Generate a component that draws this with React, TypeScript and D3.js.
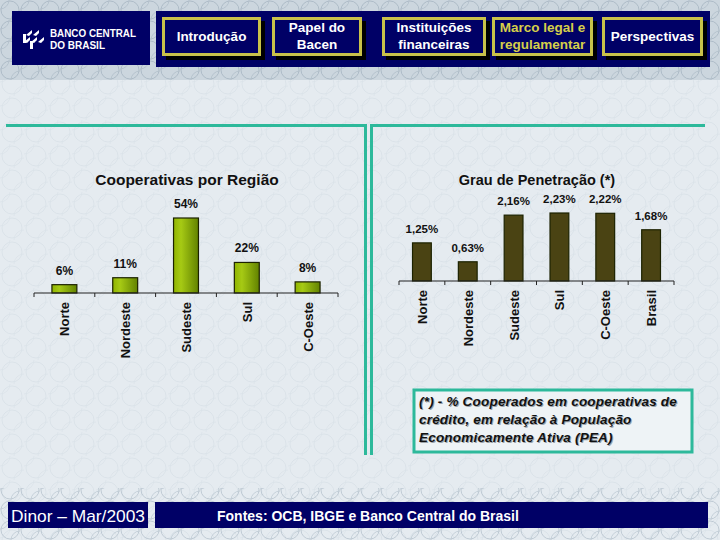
import * as d3 from "d3"

const regions = ["Norte", "Nordeste", "Sudeste", "Sul", "C-Oeste"]
const regionShare = [6, 11, 54, 22, 8]

const penetrationCats = ["Norte", "Nordeste", "Sudeste", "Sul", "C-Oeste", "Brasil"]
const penetration = [1.25, 0.63, 2.16, 2.23, 2.22, 1.68]

const navItems = [
	{ lines: ["Introdução"], x0: 162, x1: 261, active: false },
	{ lines: ["Papel do", "Bacen"], x0: 272, x1: 362, active: false },
	{ lines: ["Instituições", "financeiras"], x0: 382, x1: 486, active: false },
	{ lines: ["Marco legal e", "regulamentar"], x0: 492, x1: 593, active: true },
	{ lines: ["Perspectivas"], x0: 602, x1: 703, active: false },
]

const footnote = [
	"(*) - % Cooperados em cooperativas de",
	"crédito, em relação à População",
	"Economicamente Ativa (PEA)",
]

const FONT = "Arial, 'Liberation Sans', sans-serif"
const NAVY = "#000066"
const TEAL = "#2db99b"

function BarPanel({ cats, values, x0, x1, baseY, topY, maxV, fill, fmt, title, titleX, titleSize, valueSize }) {
	const pad = 0.59
	const x = d3.scaleBand().domain(cats).range([x0, x1]).paddingInner(pad).paddingOuter(pad / 2)
	const y = d3.scaleLinear().domain([0, maxV]).range([baseY, topY])
	const bounds = d3.range(cats.length + 1).map((i) => x0 + i * x.step())
	return (
		<g fontFamily={FONT} fontWeight="bold">
			<text x={titleX} y={185} textAnchor="middle" fontSize={titleSize} fill="#111">
				{title}
			</text>
			{cats.map((c, i) => (
				<g key={c}>
					<rect
						x={x(c)}
						y={y(values[i])}
						width={x.bandwidth()}
						height={baseY - y(values[i])}
						fill={fill}
						stroke="#1c2200"
						strokeWidth={1.2}
					/>
					<text
						x={x(c) + x.bandwidth() / 2}
						y={y(values[i]) - 10}
						textAnchor="middle"
						fontSize={valueSize}
						fill="#111"
					>
						{fmt(values[i])}
					</text>
					<text
						transform={`translate(${x(c) + x.bandwidth() / 2 + 5},${baseY + 9}) rotate(-90)`}
						textAnchor="end"
						fontSize={13}
						fill="#111"
					>
						{c}
					</text>
				</g>
			))}
			<line x1={x0} x2={x1} y1={baseY} y2={baseY} stroke="#222" strokeWidth={1.2} />
			{bounds.map((b, i) => (
				<line key={i} x1={b} x2={b} y1={baseY} y2={baseY + 4} stroke="#222" strokeWidth={1} />
			))}
		</g>
	)
}

export default function App() {
	return (
		<svg
			width={720}
			height={540}
			style={{ position: "absolute", left: 0, top: 0 }}
			fontFamily={FONT}
		>
			<defs>
				<pattern id="guil" width="24" height="24" patternUnits="userSpaceOnUse">
					<circle cx="12" cy="12" r="10" fill="none" stroke="#cfd9e1" strokeWidth="0.8" />
					<circle cx="0" cy="0" r="10" fill="none" stroke="#d4dde4" strokeWidth="0.8" />
					<circle cx="24" cy="24" r="10" fill="none" stroke="#d4dde4" strokeWidth="0.8" />
				</pattern>
				<pattern id="guilDark" width="20" height="20" patternUnits="userSpaceOnUse">
					<circle cx="10" cy="10" r="9" fill="none" stroke="#a9b8c4" strokeWidth="0.9" />
					<circle cx="0" cy="0" r="9" fill="none" stroke="#b3c1cc" strokeWidth="0.9" />
					<circle cx="20" cy="20" r="9" fill="none" stroke="#b3c1cc" strokeWidth="0.9" />
				</pattern>
				<linearGradient id="greenBar" x1="0" x2="1" y1="0" y2="0">
					<stop offset="0" stopColor="#90b400" />
					<stop offset="0.3" stopColor="#a6ca14" />
					<stop offset="1" stopColor="#628200" />
				</linearGradient>
			</defs>
			<rect width={720} height={540} fill="#e5ebf0" />
			<rect width={720} height={540} fill="url(#guil)" opacity={0.6} />
			<rect width={720} height={80} fill="#ccd6de" />
			<rect width={720} height={80} fill="url(#guilDark)" />
			<rect y={488} width={720} height={52} fill="url(#guilDark)" opacity={0.7} />

			{/* logo */}
			<rect x={12} y={11} width={138} height={54} fill={NAVY} />
			<g fill="#fff" stroke="none">
				<path d="M26 35 l6 -5 v3 l-3 3 z M33 35 l6 -5 v3 l-3 3 z" />
				<path d="M24 42 l6 -5 v3 l-3 3 z M31 42 l6 -5 v3 l-3 3 z M38 42 l6 -5 v3 l-3 3 z" />
				<rect x={23} y={34} width={3} height={9} />
				<rect x={30} y={41} width={3} height={8} />
			</g>
			<text x={50} y={37} fill="#fff" fontSize={10} fontWeight="bold" textLength={86} lengthAdjust="spacingAndGlyphs">
				BANCO CENTRAL
			</text>
			<text x={50} y={49} fill="#fff" fontSize={10} fontWeight="bold">
				DO BRASIL
			</text>

			{/* nav bar */}
			<rect x={156} y={11} width={554} height={56} fill={NAVY} />
			{navItems.map((n) => {
				const w = n.x1 - n.x0
				const cx = (n.x0 + n.x1) / 2
				return (
					<g key={n.lines[0]}>
						<rect x={n.x0 + 4} y={21} width={w} height={39} fill="#000" />
						<rect
							x={n.x0 + 1.5}
							y={18.5}
							width={w - 3}
							height={36}
							fill={NAVY}
							stroke="#c9c14a"
							strokeWidth={3}
						/>
						{n.lines.map((l, i) => (
							<text
								key={l}
								x={cx}
								y={n.lines.length === 1 ? 41 : 32 + i * 17}
								textAnchor="middle"
								fontSize={13.5}
								fontWeight="bold"
								fill={n.active ? "#d6cf4a" : "#fff"}
							>
								{l}
							</text>
						))}
					</g>
				)
			})}

			{/* panel borders */}
			<path d="M6 125.5 H365.5 V455" fill="none" stroke={TEAL} strokeWidth={3} />
			<path d="M371.5 455 V125.5 H705" fill="none" stroke={TEAL} strokeWidth={3} />

			<BarPanel
				cats={regions}
				values={regionShare}
				x0={34}
				x1={338}
				baseY={293}
				topY={218}
				maxV={54}
				fill="url(#greenBar)"
				fmt={(v) => `${v}%`}
				title="Cooperativas por Região"
				titleX={187}
				titleSize={15.5}
				valueSize={12}
			/>
			<BarPanel
				cats={penetrationCats}
				values={penetration}
				x0={399}
				x1={674}
				baseY={281}
				topY={213}
				maxV={2.23}
				fill="#4a4313"
				fmt={(v) => `${d3.format(".2f")(v).replace(".", ",")}%`}
				title="Grau de Penetração (*)"
				titleX={537}
				titleSize={14.5}
				valueSize={11.5}
			/>

			{/* footnote */}
			<rect x={414} y={390} width={278} height={62} fill="#eef3f6" stroke={TEAL} strokeWidth={3} />
			{footnote.map((l, i) => (
				<g key={l} fontSize={13.5} fontWeight="bold" fontStyle="italic" letterSpacing={0.2}>
					<text x={420} y={407 + i * 18} fill="#9aa3aa">
						{l}
					</text>
					<text x={419} y={406 + i * 18} fill="#111">
						{l}
					</text>
				</g>
			))}

			{/* footer */}
			<rect x={8} y={502} width={140} height={26} fill={NAVY} />
			<text x={11} y={522} fill="#fff" fontSize={17} textLength={134} lengthAdjust="spacingAndGlyphs">
				Dinor – Mar/2003
			</text>
			<rect x={155} y={502} width={553} height={26} fill={NAVY} />
			<text x={217} y={521} fill="#fff" fontSize={14} fontWeight="bold">
				Fontes: OCB, IBGE e Banco Central do Brasil
			</text>
		</svg>
	)
}
